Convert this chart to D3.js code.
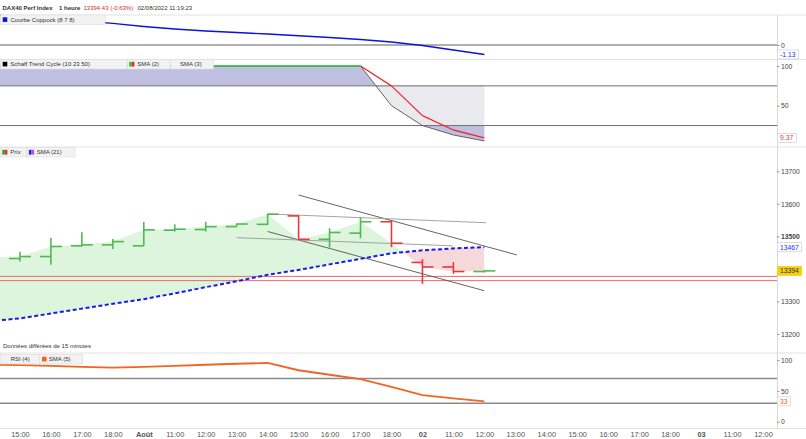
<!DOCTYPE html>
<html><head><meta charset="utf-8">
<script src="https://cdn.jsdelivr.net/npm/d3@7/dist/d3.min.js"></script>
<style>
body{margin:0;background:#fff;}
svg{display:block;font-family:"Liberation Sans",Arial,sans-serif;}
</style>
</head><body>
<svg id="c" width="806" height="439"></svg>
<script>
// ---------- DATA ----------
// slot 0 is the hour before the first visible one (only partly visible at the left edge)
const slotLabels = ["14:00","15:00","16:00","17:00","18:00","Août","11:00","12:00","13:00","14:00","15:00","16:00","17:00","18:00","02","11:00","12:00","13:00","14:00","15:00","16:00","17:00","18:00","03","11:00","12:00"];
const boldLabels = ["Août","02","03"];

const opens  = [null,13432,13438,13471,13474,13471,13519,13521,13530,13537,13563,13491,13510,13545,13420,13406,13392];
const highs  = [null,13453,13496,13513,13492,13544,13537,13545,13540,13569,13565,13525,13559,13547,13430,13421,13397];
const lows   = [null,13423,13413,13469,13461,13471,13515,13515,13530,13535,13491,13466,13494,13467,13354,13385,13389];
const closes = [13435,13438,13469,13474,13484,13520,13522,13530,13538,13568,13491,13512,13545,13479,13406,13392,13394];
const sma21  = [13239,13248,13263,13278,13293,13307,13325,13344,13362,13382,13397,13414,13431,13448,13457,13463,13467];
const levelLines = [13377,13364];
// trend lines: [slot, price] -> [slot, price]
const trendLines = [
  {a:[10,13627], b:[17.05,13443], dark:true},
  {a:[9,13569],  b:[16.05,13542], dark:false},
  {a:[9,13515],  b:[16,13333],    dark:true},
  {a:[8,13496],  b:[14.98,13471], dark:false}
];
const priceTicks = [13200,13300,13500,13600,13700];

const coppock = [3.6,3.33,3.1,2.86,2.58,2.2,1.9,1.67,1.49,1.31,1.1,0.89,0.65,0.36,-0.06,-0.6,-1.13];
const stc     = [100,100,100,100,100,100,100,100,100,100,100,100,100,50,25,13.1,5.6];
const stcSma2 = [100,100,100,100,100,100,100,100,100,100,100,100,100,75,37.5,19.4,9.37];
const stcTicks = [50,100];

const rsiSma5 = [92.6,91.8,90.6,89,87.7,89,90.6,92.3,93.9,95.2,83.4,76.1,68.9,56.5,43,37.7,33];
const rsiTicks = [0,50,100];

// ---------- LAYOUT ----------
const svg = d3.select("#c");
const W = 806, H = 439, R = 777;
const x = d3.scaleLinear().domain([0, slotLabels.length-1]).range([-11, -11 + 30.96*(slotLabels.length-1)]);
const yCop = d3.scaleLinear().domain([0,1]).range([45,36.6]);
const ySt  = d3.scaleLinear().domain([0,100]).range([145.4,66]);
const yP   = d3.scaleLinear().domain([13200,13700]).range([334,171.3]);
const yR   = d3.scaleLinear().domain([0,100]).range([421.7,360]);

const txt = "#333";
const defs = svg.append("defs");
defs.append("clipPath").attr("id","plot").append("rect").attr("x",0).attr("y",0).attr("width",R).attr("height",H);

// separators
[15,59.5,147,353,428.5].forEach(y=>{
  svg.append("line").attr("x1",0).attr("x2",W).attr("y1",y).attr("y2",y).attr("stroke","#e2e2e2").attr("stroke-width",1);
});
svg.append("line").attr("x1",R+0.5).attr("x2",R+0.5).attr("y1",15).attr("y2",428.5).attr("stroke","#d8d8d8");

// header
const hdr = svg.append("text").attr("x",2.5).attr("y",9.8).attr("font-size",6).attr("fill",txt);
hdr.append("tspan").attr("font-weight","bold").text("DAX40 Perf Index");
hdr.append("tspan").attr("x",59).attr("font-weight","bold").text("1 heure");
hdr.append("tspan").attr("x",83.5).attr("fill","#d0262b").text("13394.43 (-0.63%)");
hdr.append("tspan").attr("x",137.5).text("02/08/2022 11:19:23");

const plot = svg.append("g").attr("clip-path","url(#plot)");

// ---------- COPPOCK ----------
plot.append("line").attr("x1",0).attr("x2",R).attr("y1",yCop(0)).attr("y2",yCop(0)).attr("stroke","#b0b0b0").attr("stroke-width",2);
plot.append("path").datum(coppock)
  .attr("d", d3.line().x((d,i)=>x(i)).y(d=>yCop(d)))
  .attr("fill","none").attr("stroke","#1010dd").attr("stroke-width",1.4);

// ---------- SCHAFF ----------
const stcArea = d3.area().x((d,i)=>x(i)).y0(ySt(75)).y1(d=>ySt(d));
function zoneClip(id,y0,y1){
  defs.append("clipPath").attr("id",id).append("rect").attr("x",0).attr("width",R).attr("y",y0).attr("height",y1-y0);
}
zoneClip("stHi",0,ySt(75));
zoneClip("stMid",ySt(75),ySt(25));
zoneClip("stLo",ySt(25),160);
plot.append("path").datum(stc).attr("d",stcArea).attr("fill","#bfc0e1").attr("clip-path","url(#stHi)");
plot.append("path").datum(stc).attr("d",stcArea).attr("fill","#e9e9ee").attr("clip-path","url(#stMid)");
plot.append("path").datum(stc).attr("d",stcArea).attr("fill","#bfc0e1").attr("clip-path","url(#stLo)");
[75,25].forEach(v=>plot.append("line").attr("x1",0).attr("x2",R).attr("y1",ySt(v)).attr("y2",ySt(v)).attr("stroke","#707070").attr("stroke-width",1));
plot.append("path").datum(stc).attr("d",d3.line().x((d,i)=>x(i)).y(d=>ySt(d)))
  .attr("fill","none").attr("stroke","#555").attr("stroke-width",0.9);
// SMA(2): green while flat/rising, red while falling
for(let i=1;i<stcSma2.length;i++){
  plot.append("line").attr("x1",x(i-1)).attr("x2",x(i)).attr("y1",ySt(stcSma2[i-1])).attr("y2",ySt(stcSma2[i]))
    .attr("stroke", stcSma2[i] < stcSma2[i-1] ? "#ee2a2a" : "#22cc22").attr("stroke-width",1.3);
}

// ---------- PRICE ----------
const between = d3.area().x((d,i)=>x(i)).y0((d,i)=>yP(sma21[i])).y1(d=>yP(d));
defs.append("clipPath").attr("id","aboveSma").append("path").datum(sma21)
  .attr("d", d3.area().x((d,i)=>x(i)).y0(148).y1(d=>yP(d)));
defs.append("clipPath").attr("id","belowSma").append("path").datum(sma21)
  .attr("d", d3.area().x((d,i)=>x(i)).y0(345).y1(d=>yP(d)));
plot.append("path").datum(closes).attr("d",between).attr("fill","#dcf5dc").attr("clip-path","url(#aboveSma)");
plot.append("path").datum(closes).attr("d",between).attr("fill","#f8d9db").attr("clip-path","url(#belowSma)");

levelLines.forEach(v=>plot.append("line").attr("x1",0).attr("x2",R).attr("y1",yP(v)).attr("y2",yP(v)).attr("stroke","#ee6a6a").attr("stroke-width",1));

trendLines.forEach(t=>{
  plot.append("line").attr("x1",x(t.a[0])).attr("y1",yP(t.a[1])).attr("x2",x(t.b[0])).attr("y2",yP(t.b[1]))
    .attr("stroke", t.dark ? "#555" : "#9a9a9a").attr("stroke-width",0.9);
});

plot.append("path").datum(sma21).attr("d",d3.line().x((d,i)=>x(i)).y(d=>yP(d)))
  .attr("fill","none").attr("stroke","#1a1ae6").attr("stroke-width",2).attr("stroke-dasharray","4,2.5");

const bars = plot.append("g");
for(let i=1;i<opens.length;i++){
  const up = closes[i] >= opens[i];
  const col = up ? "#52b852" : "#e8383a";
  const g = bars.append("g").attr("stroke",col).attr("stroke-width",1.6);
  g.append("line").attr("x1",x(i)).attr("x2",x(i)).attr("y1",yP(highs[i])).attr("y2",yP(lows[i]));
  g.append("line").attr("x1",x(i)-11).attr("x2",x(i)).attr("y1",yP(opens[i])).attr("y2",yP(opens[i]));
  g.append("line").attr("x1",x(i)).attr("x2",x(i)+11).attr("y1",yP(closes[i])).attr("y2",yP(closes[i]));
}

// ---------- RSI ----------
[70,30].forEach(v=>plot.append("line").attr("x1",0).attr("x2",R).attr("y1",yR(v)).attr("y2",yR(v)).attr("stroke","#8a8a8a").attr("stroke-width",1.4));
plot.append("path").datum(rsiSma5).attr("d",d3.line().x((d,i)=>x(i)).y(d=>yR(d)))
  .attr("fill","none").attr("stroke","#f26420").attr("stroke-width",1.8);

svg.append("text").attr("x",3).attr("y",347.5).attr("font-size",6).attr("fill",txt).text("Données différées de 15 minutes");

// ---------- RIGHT AXES ----------
function rightAxis(scale, ticks, fmt, boldVal){
  const g = svg.append("g").attr("transform",`translate(${R},0)`)
    .call(d3.axisRight(scale).tickValues(ticks).tickSize(2.5).tickPadding(1.5).tickFormat(fmt));
  g.select(".domain").remove();
  g.selectAll(".tick line").attr("stroke","#999");
  g.selectAll(".tick text").attr("font-size",6.8).attr("fill","#444").attr("font-family","Liberation Sans, Arial, sans-serif")
    .attr("font-weight", d => d===boldVal ? "bold" : "normal");
  return g;
}
rightAxis(yCop,[0],d3.format("d"));
rightAxis(ySt,stcTicks,d3.format("d"));
rightAxis(yP,priceTicks,d3.format("d"),13500);
rightAxis(yR,rsiTicks,d3.format("d"));

function valueBox(y, label, color, bg, w){
  const g = svg.append("g").attr("transform",`translate(${R},${y})`);
  g.append("rect").attr("x",0.5).attr("y",-4.5).attr("width",w).attr("height",9)
    .attr("fill",bg).attr("stroke", bg==="#fff" ? "#d6d6d6" : bg).attr("stroke-width",0.8);
  g.append("text").attr("x",3).attr("y",2.4).attr("font-size",6.8).attr("fill",color).text(label);
}
valueBox(yCop(coppock[coppock.length-1]), "-1.13", "#2a2af0", "#fff", 21);
valueBox(ySt(stcSma2[stcSma2.length-1]), "9.37", "#e03a3a", "#fff", 19);
valueBox(yP(sma21[sma21.length-1]), "13467", "#2a2af0", "#fff", 24);
valueBox(yP(closes[closes.length-1]), "13394", "#333", "#f5cf12", 24);
valueBox(yR(rsiSma5[rsiSma5.length-1]), "33", "#f26420", "#fff", 13);

// ---------- X AXIS ----------
const xa = svg.append("g").attr("transform","translate(0,428.5)")
  .call(d3.axisBottom(x).tickValues(d3.range(1,slotLabels.length)).tickSize(0).tickPadding(3.5).tickFormat(i=>slotLabels[i]));
xa.select(".domain").remove();
xa.selectAll(".tick text").attr("font-size",7.4).attr("fill","#555").attr("font-family","Liberation Sans, Arial, sans-serif")
  .attr("font-weight", i => boldLabels.includes(slotLabels[i]) ? "bold" : "normal");

// ---------- LEGENDS ----------
function legend(y, items){
  let cx = 0;
  items.forEach(it=>{
    const g = svg.append("g").attr("transform",`translate(${cx},${y})`);
    g.append("rect").attr("x",0.5).attr("y",0).attr("width",it.w-0.5).attr("height",9.5).attr("fill","#f2f2f2").attr("stroke","#dcdcdc").attr("stroke-width",0.6);
    if(it.icon){
      if(it.icon.length===1){
        g.append("rect").attr("x",2.7).attr("y",2.3).attr("width",4.6).attr("height",4.6).attr("fill",it.icon[0]);
      } else {
        g.append("rect").attr("x",2.2).attr("y",2.3).attr("width",2.6).attr("height",4.8).attr("fill",it.icon[0]);
        g.append("rect").attr("x",4.8).attr("y",2.3).attr("width",2.6).attr("height",4.8).attr("fill",it.icon[1]);
      }
    }
    g.append("text").attr("x",it.tx).attr("y",6.9).attr("font-size",6).attr("fill",txt).text(it.label);
    cx += it.w;
  });
}
legend(15,[{w:105,label:"Courbe Coppock (8 7 8)",icon:["#1010dd"],tx:10.5}]);
legend(59.5,[
  {w:127,label:"Schaff Trend Cycle (10 23 50)",icon:["#000"],tx:10.3},
  {w:43,label:"SMA (2)",icon:["#22cc22","#ee2a2a"],tx:10.3},
  {w:43.3,label:"SMA (3)",icon:null,tx:10}
]);
legend(147.5,[
  {w:26.7,label:"Prix",icon:["#22aa22","#ee2a2a"],tx:10.3},
  {w:48.3,label:"SMA (21)",icon:["#2020ee","#b050e0"],tx:10}
]);
legend(354.5,[
  {w:39.3,label:"RSI (4)",icon:null,tx:10.7},
  {w:43.4,label:"SMA (5)",icon:["#f26420"],tx:9.5}
]);
</script>
</body></html>
